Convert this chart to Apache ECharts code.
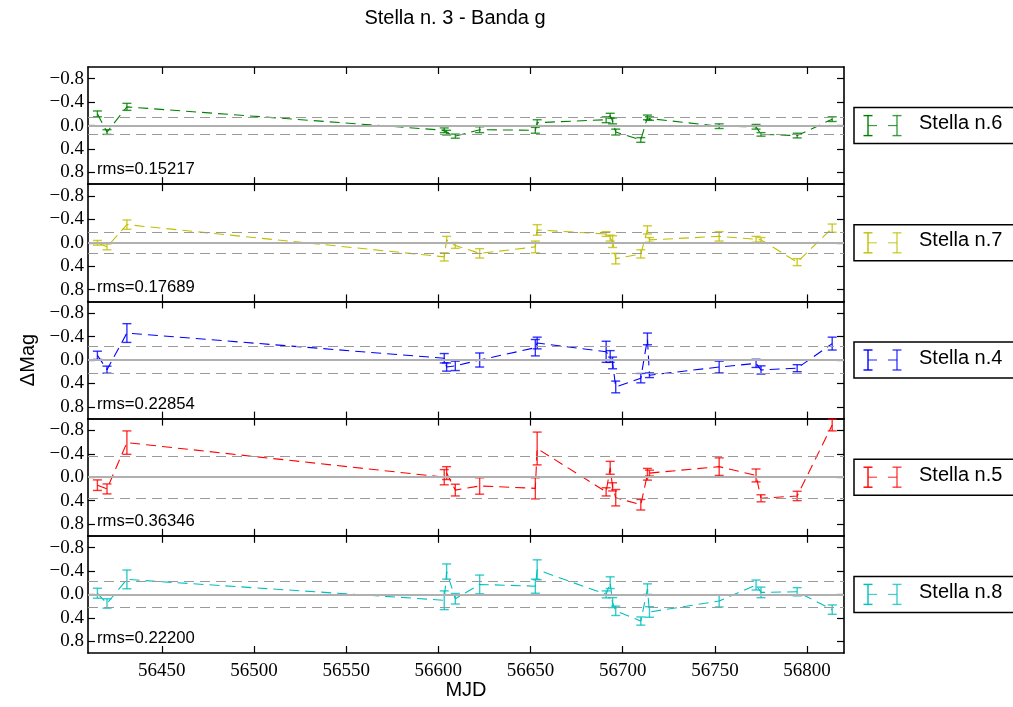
<!DOCTYPE html>
<html><head><meta charset="utf-8">
<script src="https://cdn.jsdelivr.net/npm/echarts@6/dist/echarts.min.js"></script>
<style>html,body{margin:0;padding:0;background:#fff}#c{width:1013px;height:707px}</style>
</head><body><div id="c"></div>
<script>
// ---- data ----
const mjd = [56415.1, 56420.3, 56431.1, 56603.2, 56604.5, 56609.2, 56622.4, 56652.6, 56653.6, 56691.0, 56693.2, 56694.5, 56696.2, 56709.8, 56713.4, 56714.5, 56752.3, 56772.3, 56775.0, 56794.6, 56813.6];
const star6 = [-0.20, 0.11, -0.32, 0.08, 0.12, 0.18, 0.07, 0.08, -0.05, -0.10, -0.17, -0.08, 0.11, 0.245, -0.14, -0.12, 0.01, 0.02, 0.15, 0.17, -0.11];
const err6  = [0.05, 0.04, 0.06, 0.04, 0.04, 0.035, 0.05, 0.05, 0.05, 0.05, 0.04, 0.05, 0.05, 0.04, 0.04, 0.03, 0.04, 0.04, 0.03, 0.04, 0.04];
const star7 = [0.00, 0.07, -0.31, 0.24, -0.05, 0.045, 0.18, 0.07, -0.22, -0.15, -0.08, -0.02, 0.27, 0.19, -0.22, -0.05, -0.11, -0.06, -0.05, 0.33, -0.25];
const err7  = [0.04, 0.05, 0.08, 0.07, 0.06, 0.05, 0.08, 0.10, 0.09, 0.04, 0.05, 0.10, 0.09, 0.07, 0.07, 0.04, 0.08, 0.05, 0.04, 0.06, 0.07];
const star4 = [-0.08, 0.165, -0.46, -0.03, 0.12, 0.10, 0.00, -0.21, -0.29, -0.14, -0.06, 0.05, 0.46, 0.31, -0.36, 0.26, 0.12, 0.057, 0.17, 0.14, -0.28];
const err4  = [0.07, 0.06, 0.16, 0.08, 0.07, 0.08, 0.12, 0.14, 0.10, 0.18, 0.10, 0.10, 0.10, 0.08, 0.10, 0.04, 0.10, 0.07, 0.07, 0.06, 0.11];
const star5 = [0.136, 0.20, -0.59, 0.00, -0.07, 0.22, 0.15, 0.19, -0.49, 0.25, -0.16, 0.165, 0.35, 0.47, -0.05, -0.07, -0.18, -0.03, 0.36, 0.32, -0.89];
const err5  = [0.09, 0.085, 0.20, 0.13, 0.11, 0.10, 0.14, 0.18, 0.28, 0.07, 0.11, 0.07, 0.14, 0.09, 0.10, 0.05, 0.15, 0.11, 0.06, 0.08, 0.10];
const star8 = [-0.02, 0.155, -0.256, 0.10, -0.39, 0.074, -0.17, -0.14, -0.42, 0.00, -0.20, 0.14, 0.28, 0.455, -0.09, 0.30, 0.114, -0.16, -0.034, -0.045, 0.26];
const err8  = [0.085, 0.08, 0.16, 0.16, 0.13, 0.09, 0.16, 0.12, 0.17, 0.06, 0.10, 0.085, 0.08, 0.07, 0.09, 0.09, 0.10, 0.085, 0.09, 0.07, 0.08];
const starNames = ['Stella n.6', 'Stella n.7', 'Stella n.4', 'Stella n.5', 'Stella n.8'];
const rmsValues = [0.15217, 0.17689, 0.22854, 0.36346, 0.22200];
const rmsLabels = ['rms=0.15217', 'rms=0.17689', 'rms=0.22854', 'rms=0.36346', 'rms=0.22200'];
const xTicks = [56450, 56500, 56550, 56600, 56650, 56700, 56750, 56800];
const yTicks = [-0.8, -0.4, 0.0, 0.4, 0.8];
const titleText = 'Stella n. 3 - Banda g';
const xName = 'MJD';
const yName = '\u0394Mag';

// ---- layout / styles ----
const values = [star6, star7, star4, star5, star8];
const errors = [err6, err7, err4, err5, err8];
const colors = ['#008000', '#bfbf00', '#0000ff', '#ff0000', '#00bfbf'];
const G_LEFT = 88, G_W = 756, G_TOP = 67, G_H = 117.2;
const serif = 'Liberation Serif';
const sans = 'Liberation Sans';
const DASH = [10, 6];

const grids = [], xAxes = [], yAxes = [], series = [], graphics = [];
const fmtY = v => (v < 0 ? '\u2212' : '') + Math.abs(v).toFixed(1);
const fmtX = v => String(Math.round(v));

for (let i = 0; i < 5; i++) {
  const top = G_TOP + i * G_H;
  grids.push({left: G_LEFT, width: G_W, top: top, height: G_H});
  const axLine = {show: true, onZero: false, lineStyle: {color: '#000', width: 1.6}};
  const tick = (vals) => ({show: true, inside: true, length: 7, customValues: vals, lineStyle: {color: '#000', width: 1.2}});
  xAxes.push({type: 'value', gridIndex: i, min: 56410, max: 56820, position: 'bottom',
    axisLine: axLine, axisTick: tick(xTicks), splitLine: {show: false},
    axisLabel: {show: i === 4, customValues: xTicks, formatter: fmtX, fontFamily: serif, fontSize: 19, color: '#000', margin: 9}});
  xAxes.push({type: 'value', gridIndex: i, min: 56410, max: 56820, position: 'top',
    axisLine: axLine, axisTick: tick(xTicks), splitLine: {show: false}, axisLabel: {show: false}});
  yAxes.push({type: 'value', gridIndex: i, min: -1, max: 1, inverse: true, position: 'left',
    axisLine: axLine, axisTick: tick(yTicks), splitLine: {show: false},
    axisLabel: {customValues: yTicks, formatter: fmtY, fontFamily: serif, fontSize: 19, color: '#000', margin: 4}});
  yAxes.push({type: 'value', gridIndex: i, min: -1, max: 1, inverse: true, position: 'right',
    axisLine: axLine, axisTick: tick(yTicks), splitLine: {show: false}, axisLabel: {show: false}});

  const col = colors[i];
  const rms = rmsValues[i];
  // reference lines
  series.push({type: 'line', xAxisIndex: 2 * i, yAxisIndex: 2 * i, data: [], z: 1, silent: true,
    markLine: {silent: true, symbol: 'none', label: {show: false}, animation: false,
      data: [
        {yAxis: 0, lineStyle: {type: 'solid', color: '#b0b0b0', width: 2}},
        {yAxis: rms, lineStyle: {type: DASH, color: '#999999', width: 1.2}},
        {yAxis: -rms, lineStyle: {type: DASH, color: '#999999', width: 1.2}}
      ]}});
  // dashed connecting line
  series.push({type: 'line', xAxisIndex: 2 * i, yAxisIndex: 2 * i, z: 3,
    data: mjd.map((x, j) => [x, values[i][j]]), showSymbol: false, symbol: 'none',
    lineStyle: {color: col, width: 1.1, type: DASH}});
  // error bars
  series.push({type: 'custom', xAxisIndex: 2 * i, yAxisIndex: 2 * i, z: 4,
    data: mjd.map((x, j) => [x, values[i][j], errors[i][j]]),
    encode: {x: 0, y: 1},
    renderItem: (params, api) => {
      const x = api.value(0), y = api.value(1), e = api.value(2);
      const p1 = api.coord([x, y - e]), p2 = api.coord([x, y + e]);
      const hw = 4.5;
      const st = {stroke: col, lineWidth: 1.4, opacity: 0.8};
      return {type: 'group', children: [
        {type: 'line', shape: {x1: p1[0], y1: p1[1], x2: p2[0], y2: p2[1]}, style: st},
        {type: 'line', shape: {x1: p1[0] - hw, y1: p1[1], x2: p1[0] + hw, y2: p1[1]}, style: st},
        {type: 'line', shape: {x1: p2[0] - hw, y1: p2[1], x2: p2[0] + hw, y2: p2[1]}, style: st}
      ]};
    }});

  // rms text
  graphics.push({type: 'text', left: 97, top: top + G_H - 23,
    style: {text: rmsLabels[i], font: '16.7px "' + sans + '"', fill: '#000'}});
  // legend box
  const yc = top + G_H / 2;
  graphics.push({type: 'rect', shape: {x: 854, y: yc - 18, width: 165, height: 36},
    style: {fill: '#fff', stroke: '#000', lineWidth: 1.5}});
  const gx = [868, 897];
  gx.forEach((x, k) => {
    const st = {stroke: col, lineWidth: 1.4, opacity: k === 0 ? 1 : 0.75};
    graphics.push({type: 'line', shape: {x1: x, y1: yc - 10, x2: x, y2: yc + 10}, style: st});
    graphics.push({type: 'line', shape: {x1: x - 4.5, y1: yc - 10, x2: x + 4.5, y2: yc - 10}, style: st});
    graphics.push({type: 'line', shape: {x1: x - 4.5, y1: yc + 10, x2: x + 4.5, y2: yc + 10}, style: st});
  });
  graphics.push({type: 'line', shape: {x1: 868, y1: yc, x2: 877, y2: yc}, style: {stroke: col, lineWidth: 1.1, opacity: 0.8}});
  graphics.push({type: 'line', shape: {x1: 888, y1: yc, x2: 897, y2: yc}, style: {stroke: col, lineWidth: 1.1, opacity: 0.8}});
  graphics.push({type: 'text', left: 919, top: yc - 12,
    style: {text: starNames[i], font: '20px "' + sans + '"', fill: '#000'}});
}

graphics.push({type: 'text', x: 455, y: 18, style: {text: titleText, font: '20px "' + sans + '"', fill: '#000', align: 'center', verticalAlign: 'middle'}});
graphics.push({type: 'text', x: 466, y: 680, style: {text: xName, font: '20px "' + sans + '"', fill: '#000', align: 'center'}});
graphics.push({type: 'text', x: 28, y: 360, rotation: Math.PI / 2,
  style: {text: yName, font: '20px "' + sans + '"', fill: '#000', align: 'center', verticalAlign: 'middle'}});

const chart = echarts.init(document.getElementById('c'), null, {renderer: 'canvas'});
chart.setOption({animation: false, backgroundColor: '#fff',
  grid: grids, xAxis: xAxes, yAxis: yAxes, series: series, graphic: graphics});
</script></body></html>
